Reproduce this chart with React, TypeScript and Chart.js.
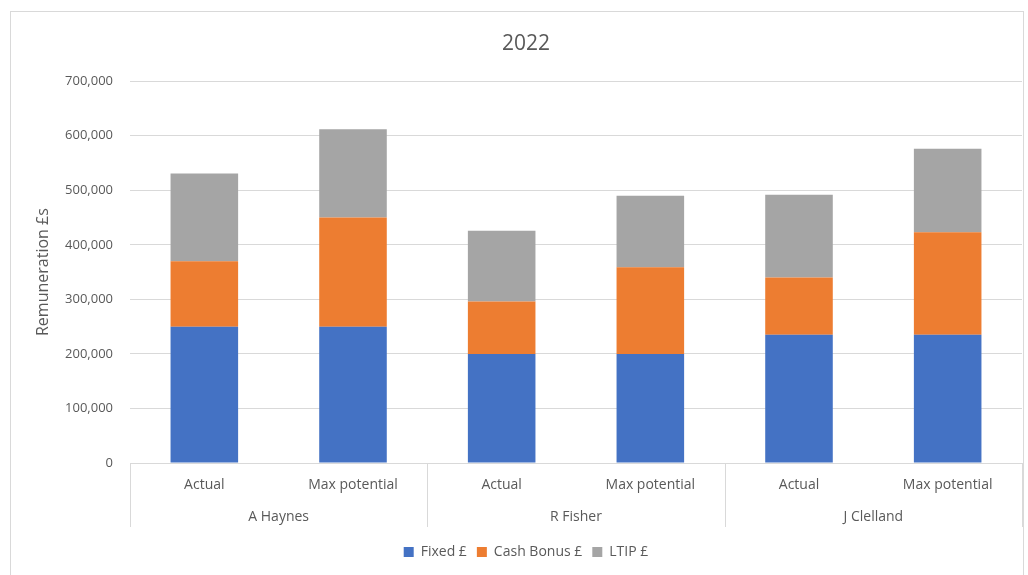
import React, { useEffect, useRef } from 'react';
import { Chart, registerables } from 'chart.js';

Chart.register(...registerables);

const categories = ['Actual', 'Max potential', 'Actual', 'Max potential', 'Actual', 'Max potential'];
const groups = ['A Haynes', 'R Fisher', 'J Clelland'];
const fixedValues = [250000, 250000, 200000, 200000, 235000, 235000];
const cashBonusValues = [120000, 200000, 96000, 159000, 105000, 188000];
const ltipValues = [161000, 162000, 130000, 131000, 152000, 153000];
const seriesNames = ['Fixed £', 'Cash Bonus £', 'LTIP £'];
const yMax = 700000;
const yStep = 100000;
const chartTitle = '2022';
const yTitle = 'Remuneration £s';

const TEXT = '#595959';
const GRID = '#d9d9d9';
const FONT = "'Open Sans', sans-serif";

const framePlugin = {
  id: 'frame',
  beforeDraw(chart: any) {
    const { ctx, width, height } = chart;
    ctx.save();
    ctx.fillStyle = '#ffffff';
    ctx.fillRect(0, 0, width, height);
    ctx.strokeStyle = GRID;
    ctx.lineWidth = 1;
    ctx.strokeRect(10.5, 11.5, width - 15, height + 20);
    ctx.restore();
  },
  afterDraw(chart: any) {
    const { ctx } = chart;
    const x = chart.scales.x;
    const x2 = chart.scales.x2;
    const step = x.getPixelForValue(1) - x.getPixelForValue(0);
    const n = categories.length;
    const perGroup = n / groups.length;
    ctx.save();
    ctx.strokeStyle = GRID;
    ctx.lineWidth = 1;
    for (let g = 0; g <= groups.length; g++) {
      const idx = g * perGroup;
      const px = Math.round(x.getPixelForValue(0) + (idx - 0.5) * step) + 0.5;
      ctx.beginPath();
      ctx.moveTo(px, x.top);
      ctx.lineTo(px, x2.top + 31);
      ctx.stroke();
    }
    ctx.restore();
  },
};

export default function App() {
  const ref = useRef<HTMLCanvasElement | null>(null);

  useEffect(() => {
    if (!ref.current) return;
    const chart = new Chart(ref.current, {
      type: 'bar',
      data: {
        labels: categories,
        datasets: [
          { label: seriesNames[0], data: fixedValues, backgroundColor: '#4472C4' },
          { label: seriesNames[1], data: cashBonusValues, backgroundColor: '#ED7D31' },
          { label: seriesNames[2], data: ltipValues, backgroundColor: '#A5A5A5' },
        ],
      },
      options: {
        responsive: true,
        maintainAspectRatio: false,
        animation: false,
        datasets: { bar: { barPercentage: 0.4545, categoryPercentage: 1 } },
        layout: { padding: { left: 30, right: 6, top: 0, bottom: 6 } },
        plugins: {
          title: {
            display: true,
            text: chartTitle,
            color: TEXT,
            font: { family: FONT, size: 21, weight: 'normal' },
            padding: { top: 31, bottom: 25 },
          },
          legend: {
            display: true,
            position: 'bottom',
            labels: {
              color: TEXT,
              font: { family: FONT, size: 14 },
              boxWidth: 10,
              boxHeight: 10,
              padding: 10,
            },
          },
          tooltip: { enabled: false },
        },
        scales: {
          x: {
            stacked: true,
            weight: 0,
            grid: { display: false, drawTicks: false, tickLength: 0 },
            border: { display: true, color: GRID },
            ticks: { color: TEXT, font: { family: FONT, size: 14 }, padding: 14, maxRotation: 0, autoSkip: false },
            afterFit(scale: any) { scale.height = 33; },
          },
          x2: {
            type: 'category',
            labels: groups,
            position: 'bottom',
            offset: true,
            weight: 1,
            grid: { display: false, drawTicks: false, tickLength: 0 },
            border: { display: false },
            ticks: { color: TEXT, font: { family: FONT, size: 14 }, padding: 13, maxRotation: 0, autoSkip: false },
            afterFit(scale: any) { scale.height = 39; },
          },
          y: {
            stacked: true,
            min: 0,
            max: yMax,
            grid: { color: GRID, drawTicks: false, tickLength: 0 },
            border: { display: false },
            ticks: {
              stepSize: yStep,
              color: TEXT,
              font: { family: FONT, size: 13 },
              padding: 17,
              callback: (v: any) => Number(v).toLocaleString('en-US'),
            },
            title: {
              display: true,
              text: yTitle,
              color: TEXT,
              font: { family: FONT, size: 16 },
              padding: { top: 4, bottom: 4 },
            },
            afterFit(scale: any) { scale.width = 100; },
          },
        },
      },
      plugins: [framePlugin],
    });
    return () => chart.destroy();
  }, []);

  return (
    <div style={{ position: 'fixed', left: 0, top: 0, width: 1028, height: 575 }}>
      <canvas ref={ref} />
    </div>
  );
}
